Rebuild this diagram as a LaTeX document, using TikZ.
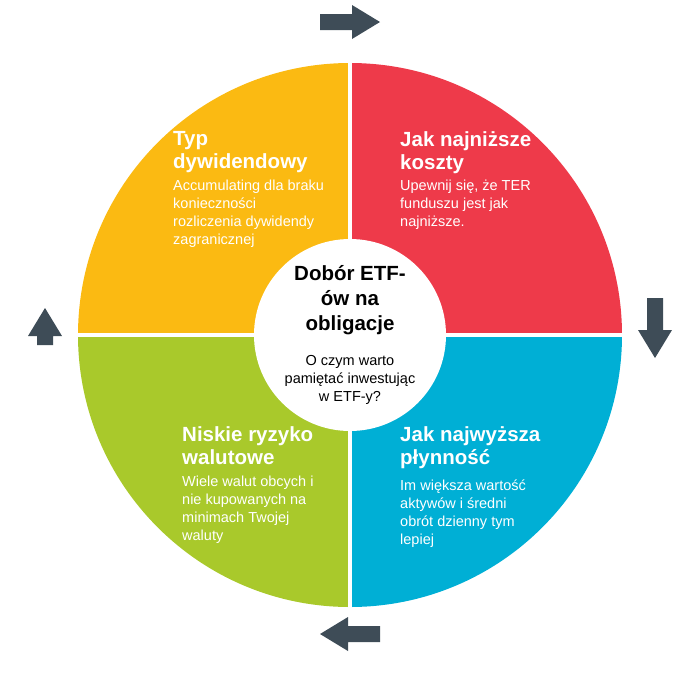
\documentclass[tikz,border=0pt]{standalone}
\usepackage{fontspec}
\setmainfont{Liberation Sans}
\definecolor{cy}{HTML}{FBBA12}
\definecolor{cr}{HTML}{EE3A4A}
\definecolor{cg}{HTML}{A9C92B}
\definecolor{cb}{HTML}{00AFD5}
\definecolor{ca}{HTML}{3E4C57}
\begin{document}
\begin{tikzpicture}[x=1pt,y=-1pt,
  ttl/.style={anchor=north west,align=left,text=white,font=\bfseries\fontsize{20.5}{23}\selectfont,inner sep=0pt},
  bdy/.style={anchor=north west,align=left,text=white,font=\fontsize{14.5}{18}\selectfont,inner sep=0pt},
  blk/.style={fill=ca}]
\useasboundingbox (0,0) rectangle (695,673);
\fill[cy] (350,335) -- (78,335) arc[start angle=180,end angle=270,radius=272] -- cycle;
\fill[cr] (350,335) -- (350,63) arc[start angle=270,end angle=360,radius=272] -- cycle;
\fill[cb] (350,335) -- (622,335) arc[start angle=0,end angle=90,radius=272] -- cycle;
\fill[cg] (350,335) -- (350,607) arc[start angle=90,end angle=180,radius=272] -- cycle;
\draw[white,line width=4pt] (350,60) -- (350,610) (75,335) -- (625,335);
\fill[white] (350,335) circle[radius=96];
% arrows
\fill[blk] (320,14) -- (352,14) -- (352,5) -- (380,22) -- (352,39) -- (352,30) -- (320,30) -- cycle;
\fill[blk] (647,298) -- (647,330) -- (638,330) -- (655,358) -- (672,330) -- (663,330) -- (663,298) -- cycle;
\fill[blk] (380,626) -- (348,626) -- (348,617) -- (320,634) -- (348,651) -- (348,642) -- (380,642) -- cycle;
\fill[blk] (37,345) -- (37,336) -- (28,336) -- (45,308) -- (62,336) -- (53,336) -- (53,345) -- cycle;
% texts
\node[ttl] (t1) at (173,131) {Typ\\dywidendowy};
\node[bdy] (b1) at (173,180) {Accumulating dla braku\\konieczności\\rozliczenia dywidendy\\zagranicznej};
\node[ttl] (t2) at (400,131) {Jak najniższe\\koszty};
\node[bdy] (b2) at (400,180) {Upewnij się, że TER\\funduszu jest jak\\najniższe.};
\node[ttl] (t3) at (182,426) {Niskie ryzyko\\walutowe};
\node[bdy] (b3) at (182,476) {Wiele walut obcych i\\nie kupowanych na\\minimach Twojej\\waluty};
\node[ttl] (t4) at (400,426) {Jak najwyższa\\płynność};
\node[bdy] (b4) at (400,480) {Im większa wartość\\aktywów i średni\\obrót dzienny tym\\lepiej};
\node[align=center,inner sep=0pt,font=\bfseries\fontsize{20.5}{25}\selectfont] (c1) at (350,300) {Dobór ETF-\\ów na\\obligacje};
\node[align=center,inner sep=0pt,font=\fontsize{14.5}{18}\selectfont] (c2) at (350,380) {O czym warto\\pamiętać inwestując\\w ETF-y?};
\end{tikzpicture}
\end{document}
